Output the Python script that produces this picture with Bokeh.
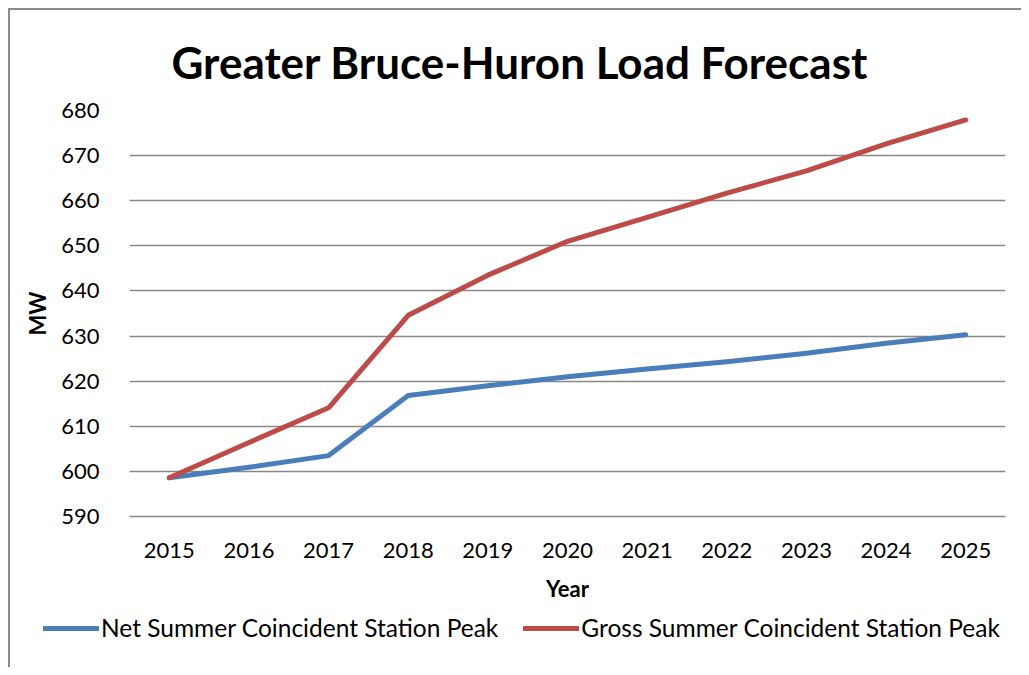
from bokeh.plotting import figure
from bokeh.layouts import column
from bokeh.models import Legend, LegendItem, FixedTicker, Range1d
from bokeh.embed import file_html
from bokeh.resources import INLINE

years = [2015, 2016, 2017, 2018, 2019, 2020, 2021, 2022, 2023, 2024, 2025]
net_peak = [598.6, 600.9, 603.5, 616.8, 619.0, 621.0, 622.7, 624.3, 626.2, 628.4, 630.3]
gross_peak = [598.6, 606.4, 614.1, 634.6, 643.5, 651.0, 656.3, 661.7, 666.6, 672.6, 677.9]
y_ticks = [590, 600, 610, 620, 630, 640, 650, 660, 670, 680]
series_names = ["Net Summer Coincident Station Peak", "Gross Summer Coincident Station Peak"]

FONT = "Lato"
BLUE = "#4A7EBB"
RED = "#BE4B48"
GRID = "#898989"

p = figure(width=1011, height=600, output_backend="svg", toolbar_location=None,
           x_range=Range1d(2014.5, 2025.5), y_range=Range1d(590, 680),
           min_border_left=119, min_border_right=16, min_border_top=100, min_border_bottom=94)
p.frame_align = False

p.title.text = "Greater Bruce-Huron Load Forecast"
p.title.align = "left"
p.title.offset = 42
p.title.text_font = FONT
p.title.text_font_size = "44px"
p.title.text_font_style = "bold"
p.title.text_color = "black"
p.title.standoff = 46

p.outline_line_color = None
p.background_fill_color = "white"
p.border_fill_color = "white"

p.xgrid.grid_line_color = None
p.ygrid.grid_line_color = GRID
p.ygrid.grid_line_width = 1.5

p.xaxis.ticker = FixedTicker(ticks=years)
p.yaxis.ticker = FixedTicker(ticks=y_ticks)
for ax in (p.xaxis, p.yaxis):
    ax.major_tick_line_color = None
    ax.minor_tick_line_color = None
    ax.major_label_text_font = FONT
    ax.major_label_text_font_size = "22px"
    ax.major_label_text_color = "black"
    ax.axis_label_text_font = FONT
    ax.axis_label_text_font_size = "22px"
    ax.axis_label_text_font_style = "bold"
    ax.axis_label_text_color = "black"
p.yaxis.axis_line_color = None
p.xaxis.axis_line_color = GRID
p.xaxis.axis_line_width = 1.5
p.xaxis.axis_label = "Year"
p.yaxis.axis_label = "MW"
p.xaxis.major_label_standoff = 20
p.xaxis.axis_label_standoff = 14
p.yaxis.major_label_standoff = 24
p.yaxis.axis_label_standoff = 7

p.line(years, net_peak, line_color=BLUE, line_width=5, line_join="round", line_cap="round")
p.line(years, gross_peak, line_color=RED, line_width=5, line_join="round", line_cap="round")

# Legend strip below the chart (own figure so the legend is not clipped by the plot frame)
lf = figure(width=1011, height=57, output_backend="svg", toolbar_location=None,
            x_axis_location=None, y_axis_location=None,
            x_range=Range1d(2014.5, 2025.5), y_range=Range1d(590, 680),
            min_border_left=0, min_border_right=0, min_border_top=0, min_border_bottom=0)
lf.frame_align = False
lf.grid.visible = False
lf.outline_line_color = None
lf.border_fill_color = "white"
l_net = lf.line(years, net_peak, line_color=BLUE, line_width=5, line_cap="round", visible=False)
l_gross = lf.line(years, gross_peak, line_color=RED, line_width=5, line_cap="round", visible=False)

legend = Legend(items=[LegendItem(label=series_names[0], renderers=[l_net]),
                       LegendItem(label=series_names[1], renderers=[l_gross])],
                orientation="horizontal", location=(33, 25),
                label_text_font=FONT, label_text_font_size="24.5px", label_text_color="black",
                glyph_width=56, glyph_height=20, label_standoff=2, spacing=25,
                border_line_color=None, background_fill_alpha=0, margin=0, padding=0)
lf.add_layout(legend, "center")

layout = column(p, lf, spacing=0)
layout.styles = {"border-left": "2px solid #8a8a8a", "border-top": "2px solid #8a8a8a",
                 "margin-left": "8px", "margin-top": "8px"}

open("out.html", "w").write(file_html(layout, INLINE))
